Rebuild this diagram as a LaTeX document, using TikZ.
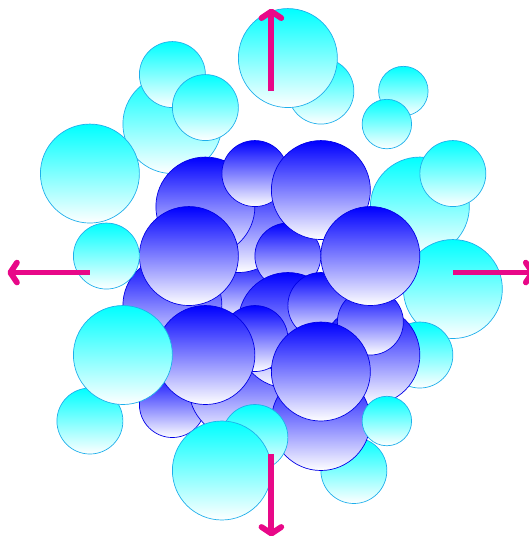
\documentclass[tikz,border=0pt]{standalone}
\usetikzlibrary{arrows.meta}
\definecolor{gasedge}{RGB}{30,175,235}
\definecolor{pushpink}{RGB}{232,8,136}
\begin{document}
\begin{tikzpicture}[x=0.5cm, y=0.5cm,
      outer/.style={draw=gasedge, line width=0.6pt, top color=cyan, bottom color=white},
      inner/.style={draw=blue!90!black, line width=0.6pt, top color=blue, bottom color=white},
      push/.style={draw=pushpink, line width=5pt, -{Straight Barb[length=2mm, width=6mm, round]}}
  ]
    \useasboundingbox (-16.45,-15.97) rectangle (15.61,16.52);

    \foreach \x/\y/\r in {-6/9/3, -6/12/2, -4/10/2, -11/6/3, 3/11/2, 1/13/3, 8/11/1.5, 7/9/1.5,
        9/4/3, 11/6/2, 11/-1/3, 9/-5/2, 5/-12/2, -11/-9/2} {
      \draw[outer] (\x,\y) circle (\r);
    }
    \foreach \x/\y/\r in {-2/-1/2, -2/3/3, -4/4/3, -1/6/2, 1/1/2, 3/5/3, -6/-2/3, -5/1/3,
        -6/-8/2, -2/-7/3, 1/-4/3, 1/-3/3, 3/-2/2, -1/-4/2, -4/-5/3,
        6/-5/3, 6/-3/2, 3/-9/3, 3/-6/3, 6/1/3} {
      \draw[inner] (\x,\y) circle (\r);
    }
    \foreach \x/\y/\r in {-10/1/2, -9/-5/3, 7/-9/1.5, -1/-10/2, -3/-12/3} {
      \draw[outer] (\x,\y) circle (\r);
    }

    \foreach \a in {0,90,180,270} {
      \draw[push] (\a:11) -- (\a:16);
    }
  \end{tikzpicture}
\end{document}
